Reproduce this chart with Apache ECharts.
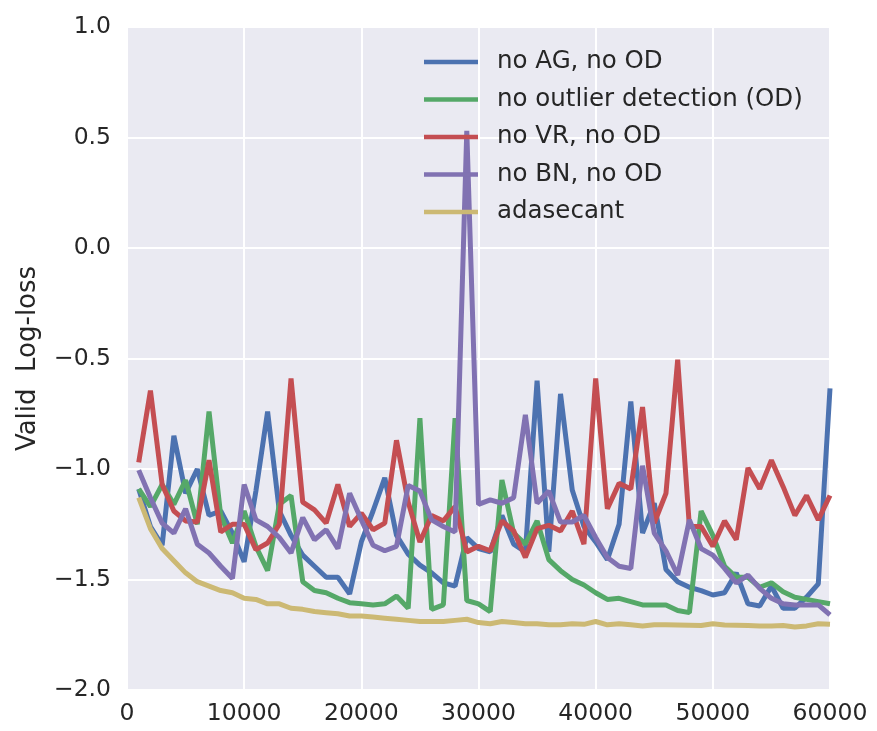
<!DOCTYPE html>
<html>
<head>
<meta charset="utf-8">
<script src="https://cdn.jsdelivr.net/npm/echarts@6/dist/echarts.min.js"></script>
<style>
html,body{margin:0;padding:0;background:#fff;}
#chart{width:877px;height:731px;}
</style>
</head>
<body>
<div id="chart"></div>
<script>
const iterations = [1000,2000,3000,4000,5000,6000,7000,8000,9000,10000,
  11000,12000,13000,14000,15000,16000,17000,18000,19000,20000,
  21000,22000,23000,24000,25000,26000,27000,28000,29000,30000,
  31000,32000,33000,34000,35000,36000,37000,38000,39000,40000,
  41000,42000,43000,44000,45000,46000,47000,48000,49000,50000,
  51000,52000,53000,54000,55000,56000,57000,58000,59000,60000];

const noAG = [-1.09,-1.26,-1.345,-0.85,-1.11,-1.00,-1.21,-1.19,-1.29,-1.42,
  -1.10,-0.74,-1.19,-1.30,-1.39,-1.44,-1.49,-1.49,-1.565,-1.33,
  -1.19,-1.04,-1.30,-1.385,-1.435,-1.47,-1.515,-1.53,-1.31,-1.36,
  -1.375,-1.21,-1.34,-1.375,-0.60,-1.375,-0.66,-1.095,-1.26,-1.33,
  -1.41,-1.25,-0.695,-1.29,-1.155,-1.455,-1.51,-1.535,-1.55,-1.57,
  -1.56,-1.47,-1.61,-1.62,-1.53,-1.63,-1.63,-1.58,-1.52,-0.635];

const noOD = [-1.09,-1.17,-1.07,-1.16,-1.05,-1.25,-0.74,-1.21,-1.335,-1.19,
  -1.35,-1.46,-1.16,-1.12,-1.51,-1.55,-1.56,-1.585,-1.605,-1.61,
  -1.615,-1.61,-1.575,-1.63,-0.77,-1.635,-1.615,-0.77,-1.595,-1.61,
  -1.645,-1.05,-1.29,-1.34,-1.235,-1.41,-1.46,-1.50,-1.525,-1.56,
  -1.59,-1.585,-1.60,-1.615,-1.615,-1.615,-1.64,-1.65,-1.19,-1.30,
  -1.44,-1.49,-1.49,-1.535,-1.515,-1.555,-1.58,-1.59,-1.60,-1.61];

const noVR = [-0.97,-0.645,-1.07,-1.19,-1.235,-1.24,-0.96,-1.285,-1.25,-1.25,
  -1.365,-1.335,-1.25,-0.59,-1.15,-1.185,-1.245,-1.07,-1.26,-1.20,
  -1.275,-1.245,-0.87,-1.15,-1.33,-1.21,-1.235,-1.17,-1.375,-1.35,
  -1.37,-1.235,-1.28,-1.40,-1.27,-1.255,-1.28,-1.19,-1.34,-0.59,
  -1.18,-1.065,-1.09,-0.72,-1.245,-1.11,-0.505,-1.26,-1.26,-1.35,
  -1.235,-1.32,-0.995,-1.09,-0.96,-1.08,-1.21,-1.12,-1.23,-1.12];

const noBN = [-1.005,-1.13,-1.245,-1.29,-1.18,-1.34,-1.38,-1.44,-1.495,-1.07,
  -1.23,-1.26,-1.31,-1.38,-1.22,-1.32,-1.275,-1.36,-1.11,-1.23,
  -1.345,-1.37,-1.35,-1.075,-1.10,-1.23,-1.26,-1.285,0.53,-1.16,
  -1.14,-1.155,-1.13,-0.755,-1.155,-1.10,-1.24,-1.24,-1.21,-1.31,
  -1.40,-1.44,-1.45,-0.985,-1.29,-1.37,-1.48,-1.23,-1.36,-1.39,
  -1.45,-1.515,-1.48,-1.54,-1.585,-1.61,-1.615,-1.615,-1.615,-1.66];

const adasecant = [-1.13,-1.27,-1.36,-1.415,-1.47,-1.51,-1.53,-1.55,-1.56,-1.585,
  -1.59,-1.61,-1.61,-1.63,-1.635,-1.645,-1.65,-1.655,-1.665,-1.665,
  -1.67,-1.675,-1.68,-1.685,-1.69,-1.69,-1.69,-1.685,-1.68,-1.695,
  -1.70,-1.69,-1.695,-1.70,-1.70,-1.705,-1.705,-1.70,-1.703,-1.69,
  -1.705,-1.70,-1.705,-1.71,-1.705,-1.705,-1.706,-1.707,-1.708,-1.70,
  -1.706,-1.707,-1.708,-1.71,-1.71,-1.708,-1.715,-1.71,-1.70,-1.703];

const seriesNames = ['no AG, no OD','no outlier detection (OD)','no VR, no OD','no BN, no OD','adasecant'];
const seriesColors = ['#4C72B0','#55A868','#C44E52','#8172B2','#CCB974'];
const seriesData = [noAG, noOD, noVR, noBN, adasecant];

const FONT = 'DejaVu Sans';
const chart = echarts.init(document.getElementById('chart'), null, {renderer:'canvas'});

const series = seriesNames.map((name, i) => ({
  name: name,
  type: 'line',
  data: iterations.map((x, j) => [x, seriesData[i][j]]),
  showSymbol: false,
  symbol: 'none',
  color: seriesColors[i],
  lineStyle: {width: 5, color: seriesColors[i]},
  emphasis: {disabled: true},
  animation: false
}));

chart.setOption({
  backgroundColor: '#ffffff',
  animation: false,
  grid: {left: 127, right: 47, top: 27, bottom: 41, containLabel: false,
         show: true, backgroundColor: '#EAEAF2', borderWidth: 0},
  legend: {
    data: seriesNames,
    orient: 'vertical',
    left: 424, top: 49, padding: 0,
    icon: 'rect',
    itemWidth: 54, itemHeight: 4.5, itemGap: 11.5,
    itemStyle: {borderWidth: 0},
    textStyle: {fontFamily: FONT, fontSize: 24.5, lineHeight: 26, color: '#262626', padding: [0,0,0,14]}
  },
  xAxis: {
    type: 'value', min: 0, max: 60000, interval: 10000,
    axisLine: {show: false}, axisTick: {show: false},
    splitLine: {show: true, lineStyle: {color: '#ffffff', width: 2}},
    axisLabel: {fontFamily: FONT, fontSize: 23.5, color: '#262626', margin: 12,
                showMaxLabel: true, showMinLabel: true,
                formatter: v => String(v)}
  },
  yAxis: {
    type: 'value', min: -2, max: 1, interval: 0.5,
    name: 'Valid  Log-loss', nameLocation: 'middle', nameGap: 86,
    nameTextStyle: {fontFamily: FONT, fontSize: 26, color: '#262626'},
    axisLine: {show: false}, axisTick: {show: false},
    splitLine: {show: true, lineStyle: {color: '#ffffff', width: 2}},
    axisLabel: {fontFamily: FONT, fontSize: 23.5, color: '#262626', margin: 16,
                formatter: v => v.toFixed(1).replace('-', '\u2212')}
  },
  series: series
});
</script>
</body>
</html>
